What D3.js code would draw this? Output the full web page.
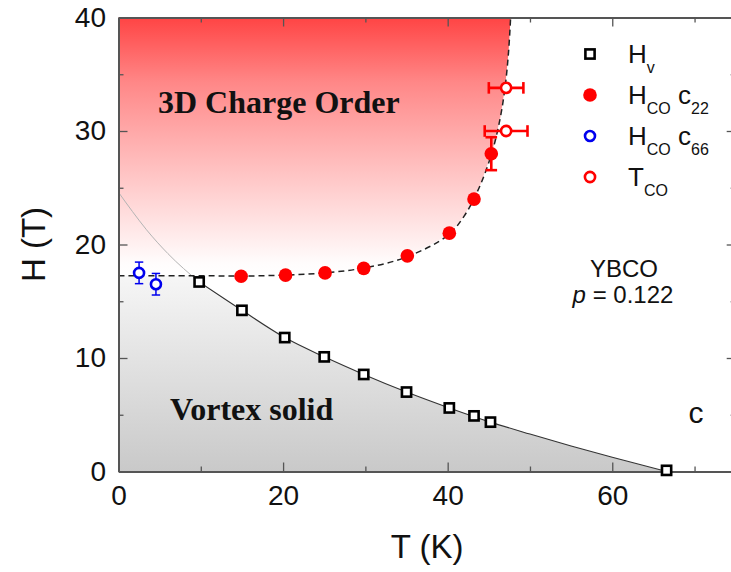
<!DOCTYPE html>
<html><head><meta charset="utf-8">
<script src="https://cdn.jsdelivr.net/npm/d3@7"></script>
<style>html,body{margin:0;padding:0;background:#fff;overflow:hidden}</style>
</head><body>
<svg id="c" width="731" height="572"></svg>
<script>
// ---- data ----
const xMajorTicks = [0, 20, 40, 60];
const xMinorTicks = [10, 30, 50, 70];
const yMajorTicks = [0, 10, 20, 30, 40];
const yMinorTicks = [5, 15, 25, 35];

// H_v (black open squares)
const hvT = [9.8, 15.0, 20.2, 25.0, 29.8, 35.0, 40.2, 43.2, 45.2, 66.6];
const hvH = [16.7, 14.2, 11.8, 10.1, 8.55, 7.0, 5.6, 4.9, 4.35, 0.1];
// H_CO c22 (red filled circles)
const c22T = [14.9, 20.3, 25.1, 29.8, 35.1, 40.2, 43.2, 45.3];
const c22H = [17.2, 17.3, 17.5, 17.9, 19.0, 21.0, 24.0, 28.0];
const c22Err = [0, 0, 0, 0, 0, 0, 0, 1.45];
// H_CO c66 (blue open circles)
const c66T = [2.5, 4.55];
const c66H = [17.5, 16.5];
const c66Err = [0.95, 0.95];
// T_CO (red open circles, horizontal error)
const tcoT = [47.1, 47.1];
const tcoH = [33.8, 30.0];
const tcoErr = [2.1, 2.6];

// guide curves
const hvCurveT = [9.8, 15, 20.2, 25, 29.8, 35, 40.2, 45.2, 50, 55, 60, 66.6];
const hvCurveH = [16.7, 14.2, 11.8, 10.1, 8.55, 7.0, 5.6, 4.35, 3.3, 2.25, 1.25, 0];
const hvExtT = [0, 1.7, 3.4, 6, 9.8];
const hvExtH = [24.6, 22.9, 21.3, 19.2, 16.7];
const coCurveT = [0, 10, 15, 20, 25, 30, 35, 40, 42, 44, 45.5, 46.4, 47.0, 47.4, 47.65];
const coCurveH = [17.25, 17.25, 17.22, 17.3, 17.5, 17.95, 18.9, 20.8, 22.5, 25.3, 28.4, 31.2, 34, 37, 40];

const legendLabels = [
  {m: "sq", parts: [["H", 0], ["v", 1]]},
  {m: "fr", parts: [["H", 0], ["CO", 1], [" c", 0], ["22", 1]]},
  {m: "ob", parts: [["H", 0], ["CO", 1], [" c", 0], ["66", 1]]},
  {m: "or", parts: [["T", 0], ["CO", 1]]}
];

// ---- layout ----
const svg = d3.select("#c");
const x = d3.scaleLinear().domain([0, 75]).range([118.5, 735.7]);
const y = d3.scaleLinear().domain([0, 40]).range([471.5, 17.5]);
const RED = "#ff0000", BLUE = "#0000ee";
const AX = "#555";

const defs = svg.append("defs");
const rg = defs.append("linearGradient").attr("id", "rg")
  .attr("gradientUnits", "userSpaceOnUse").attr("x1", 0).attr("x2", 0)
  .attr("y1", y(40)).attr("y2", y(17.25));
[[0, "rgb(255,68,68)"], [0.25, "rgb(255,135,135)"], [0.45, "rgb(255,170,170)"],
 [0.72, "rgb(255,215,215)"], [0.95, "rgb(255,252,252)"], [1, "#fff"]]
  .forEach(s => rg.append("stop").attr("offset", s[0]).attr("stop-color", s[1]));
const gg = defs.append("linearGradient").attr("id", "gg")
  .attr("gradientUnits", "userSpaceOnUse").attr("x1", 0).attr("x2", 0)
  .attr("y1", y(17.25)).attr("y2", y(0));
gg.append("stop").attr("offset", 0).attr("stop-color", "rgb(246,246,246)");
gg.append("stop").attr("offset", 1).attr("stop-color", "rgb(201,201,201)");

const zip = (a, b) => a.map((v, i) => [v, b[i]]);
const coPts = zip(coCurveT, coCurveH);
const hvPts = zip(hvCurveT, hvCurveH);
const extPts = zip(hvExtT, hvExtH);

// red region: above dashed curve
const redPoly = [[0, 40]].concat(coPts).concat([[coCurveT[coCurveT.length - 1], 40]]);
svg.append("path").attr("d", d3.line().x(d => x(d[0])).y(d => y(d[1]))(redPoly) + "Z")
  .attr("fill", "url(#rg)");

// gray region: below min(co level, Hv curve)
const lvl = coCurveH[0];
let cross = 0;
for (let i = 0; i < extPts.length - 1; i++) {
  const a = extPts[i], b = extPts[i + 1];
  if (a[1] >= lvl && b[1] <= lvl) { cross = a[0] + (a[1] - lvl) / (a[1] - b[1]) * (b[0] - a[0]); }
}
const grayPoly = [[0, 0], [0, lvl], [cross, lvl]].concat(hvPts);
svg.append("path").attr("d", d3.line().x(d => x(d[0])).y(d => y(d[1])).curve(d3.curveMonotoneX)(grayPoly) + "Z")
  .attr("fill", "url(#gg)");

// guide lines
svg.append("path").attr("d", d3.line().x(d => x(d[0])).y(d => y(d[1])).curve(d3.curveMonotoneX)(extPts))
  .attr("fill", "none").attr("stroke", "#b4b4b4").attr("stroke-width", 1);
svg.append("path").attr("d", d3.line().x(d => x(d[0])).y(d => y(d[1])).curve(d3.curveMonotoneX)(hvPts))
  .attr("fill", "none").attr("stroke", "#333").attr("stroke-width", 1.1);
svg.append("path").attr("d", d3.line().x(d => x(d[0])).y(d => y(d[1])).curve(d3.curveCatmullRom)(coPts))
  .attr("fill", "none").attr("stroke", "#222").attr("stroke-width", 1.5).attr("stroke-dasharray", "6,4");

// axes
function axis(gen, tr, vals, size, labels, pad) {
  const g = svg.append("g").attr("transform", tr)
    .call(gen.tickValues(vals).tickSize(size).tickSizeOuter(0).tickPadding(pad || 0)
      .tickFormat(labels ? d3.format("d") : () => ""));
  g.select(".domain").attr("stroke", AX).attr("stroke-width", 2);
  g.selectAll(".tick line").attr("stroke", AX).attr("stroke-width", 1.3);
  g.selectAll(".tick text").attr("fill", "#111").attr("font-family", "'Liberation Sans', Arial, sans-serif")
    .attr("font-size", 28);
  return g;
}
axis(d3.axisBottom(x), `translate(0,${y(0)})`, xMajorTicks, -9, true, 13.6);
axis(d3.axisBottom(x), `translate(0,${y(0)})`, xMinorTicks, -5, false);
axis(d3.axisTop(x), `translate(0,${y(40)})`, xMajorTicks, -9, false);
axis(d3.axisTop(x), `translate(0,${y(40)})`, xMinorTicks, -5, false);
axis(d3.axisLeft(y), `translate(${x(0)},0)`, yMajorTicks, -9, true, 12.5);
axis(d3.axisLeft(y), `translate(${x(0)},0)`, yMinorTicks, -5, false);
axis(d3.axisRight(y), `translate(${x(75)},0)`, yMajorTicks, -9, false);
axis(d3.axisRight(y), `translate(${x(75)},0)`, yMinorTicks, -5, false);

// error bars
function vErr(T, H, E, color, w, cap) {
  const g = svg.append("g").attr("stroke", color).attr("stroke-width", w);
  T.forEach((t, i) => {
    if (!E[i]) return;
    g.append("line").attr("x1", x(t)).attr("x2", x(t)).attr("y1", y(H[i] - E[i])).attr("y2", y(H[i] + E[i]));
    [H[i] - E[i], H[i] + E[i]].forEach(h => g.append("line")
      .attr("x1", x(t) - cap).attr("x2", x(t) + cap).attr("y1", y(h)).attr("y2", y(h)));
  });
}
function hErr(T, H, E, color, w, cap) {
  const g = svg.append("g").attr("stroke", color).attr("stroke-width", w);
  T.forEach((t, i) => {
    g.append("line").attr("x1", x(t - E[i])).attr("x2", x(t + E[i])).attr("y1", y(H[i])).attr("y2", y(H[i]));
    [t - E[i], t + E[i]].forEach(tt => g.append("line")
      .attr("x1", x(tt)).attr("x2", x(tt)).attr("y1", y(H[i]) - cap).attr("y2", y(H[i]) + cap));
  });
}
vErr(c66T, c66H, c66Err, BLUE, 1.5, 4.2);
vErr(c22T, c22H, c22Err, RED, 2.6, 5.8);
hErr(tcoT, tcoH, tcoErr, RED, 2.6, 5.8);

// markers
function marker(sel, kind) {
  if (kind === "sq") sel.append("rect").attr("x", -4.6).attr("y", -4.6).attr("width", 9.2).attr("height", 9.2)
    .attr("fill", "#fff").attr("stroke", "#000").attr("stroke-width", 2.6);
  if (kind === "fr") sel.append("circle").attr("r", 6.8).attr("fill", RED);
  if (kind === "ob") sel.append("circle").attr("r", 5).attr("fill", "#fff").attr("stroke", BLUE).attr("stroke-width", 2.6);
  if (kind === "or") sel.append("circle").attr("r", 5.1).attr("fill", "#fff").attr("stroke", RED).attr("stroke-width", 2.6);
}
function series(T, H, kind) {
  T.forEach((t, i) => marker(svg.append("g").attr("transform", `translate(${x(t)},${y(H[i])})`), kind));
}
series(c66T, c66H, "ob");
series(hvT, hvH, "sq");
series(c22T, c22H, "fr");
series(tcoT, tcoH, "or");

// region labels
svg.append("text").attr("x", 158).attr("y", 113).text("3D Charge Order")
  .attr("font-family", "'Liberation Serif', 'Times New Roman', serif").attr("font-weight", "bold").attr("font-size", 32).attr("fill", "#111");
svg.append("text").attr("x", 170).attr("y", 420).text("Vortex solid")
  .attr("font-family", "'Liberation Serif', 'Times New Roman', serif").attr("font-weight", "bold").attr("font-size", 32).attr("fill", "#111");

const SANS = "'Liberation Sans', Arial, sans-serif";
svg.append("text").attr("x", 624).attr("y", 277).attr("text-anchor", "middle").text("YBCO")
  .attr("font-family", SANS).attr("font-size", 24).attr("fill", "#111");
const pt = svg.append("text").attr("x", 623).attr("y", 303).attr("text-anchor", "middle")
  .attr("font-family", SANS).attr("font-size", 24).attr("fill", "#111");
pt.append("tspan").attr("font-style", "italic").text("p");
pt.append("tspan").text(" = 0.122");
svg.append("text").attr("x", 696).attr("y", 423).attr("text-anchor", "middle").text("c")
  .attr("font-family", SANS).attr("font-size", 30).attr("fill", "#111");

// axis titles
svg.append("text").attr("x", x(37.5)).attr("y", 558).attr("text-anchor", "middle").text("T (K)")
  .attr("font-family", SANS).attr("font-size", 33).attr("fill", "#111");
svg.append("text").attr("transform", `translate(45,${y(20)}) rotate(-90)`).attr("text-anchor", "middle").text("H (T)")
  .attr("font-family", SANS).attr("font-size", 33).attr("fill", "#111");

// legend
legendLabels.forEach((L, i) => {
  const by = 63 + i * 41;
  marker(svg.append("g").attr("transform", `translate(590,${by - 9})`), L.m);
  const t = svg.append("text").attr("x", 628).attr("y", by).attr("font-family", SANS).attr("fill", "#111");
  let sub = 0;
  L.parts.forEach(p => {
    const ts = t.append("tspan").text(p[0]).attr("font-size", p[1] ? 16 : 26).style("white-space", "pre");
    if (p[1] !== sub) { ts.attr("dy", p[1] ? 10 : -10); sub = p[1]; }
  });
});
</script>
</body></html>
